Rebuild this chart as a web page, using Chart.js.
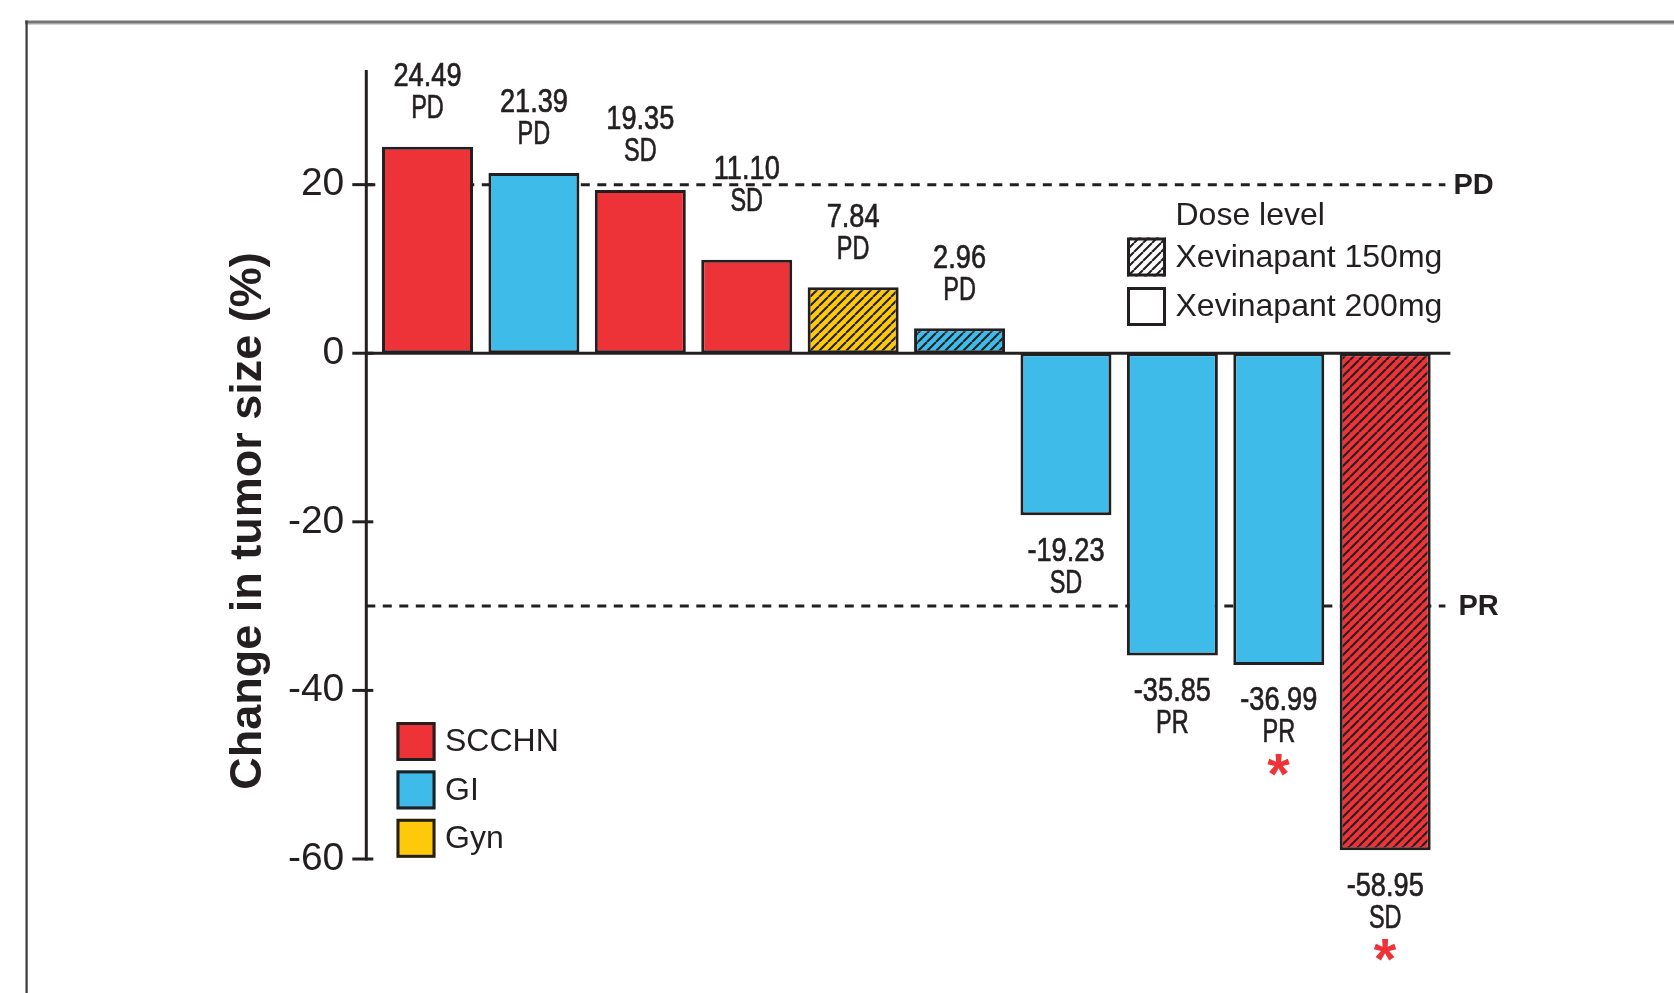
<!DOCTYPE html>
<html>
<head>
<meta charset="utf-8">
<script src="https://cdn.jsdelivr.net/npm/chart.js@4/dist/chart.umd.min.js"></script>
<style>
  html, body { margin: 0; padding: 0; background: #fff; }
  #wrap { position: relative; width: 1674px; height: 993px; }
</style>
</head>
<body>
<div id="wrap"><canvas id="c"></canvas></div>
<script>
// Best change in tumor size per patient, ordered as a waterfall
const patients   = ['Pt 1', 'Pt 2', 'Pt 3', 'Pt 4', 'Pt 5', 'Pt 6', 'Pt 7', 'Pt 8', 'Pt 9', 'Pt 10'];
const changePct  = [24.49, 21.39, 19.35, 11.10, 7.84, 2.96, -19.23, -35.85, -36.99, -58.95];
const response   = ['PD', 'PD', 'SD', 'SD', 'PD', 'PD', 'SD', 'PR', 'PR', 'SD'];
const tumorType  = ['SCCHN', 'GI', 'SCCHN', 'SCCHN', 'Gyn', 'GI', 'GI', 'GI', 'GI', 'SCCHN'];
const doseMg     = [200, 200, 200, 200, 150, 150, 200, 200, 200, 150];
const starred    = [false, false, false, false, false, false, false, false, true, true];

const yTicks      = [20, 0, -20, -40, -60];
const yTickLabels = ['20', '0', '-20', '-40', '-60'];
const yMin = -60, yMax = 33.6;

const thresholdValues = [20, -30];
const thresholdLabels = ['PD', 'PR'];

const tumorTypes = ['SCCHN', 'GI', 'Gyn'];
const doseLevels = [150, 200];
const doseLabels = ['Xevinapant 150mg', 'Xevinapant 200mg'];
const doseTitle  = 'Dose level';
const yTitle     = 'Change in tumor size (%)';

// ---- styling ----
const INK  = '#231f20';
const FONT = "'Liberation Sans', Arial, Helvetica, sans-serif";
const typeColor = { SCCHN: '#ee3338', GI: '#3fbbea', Gyn: '#fec90b' };
const STAR_RED = '#ee3338';

const canvas = document.getElementById('c');
const ctx0 = canvas.getContext('2d');

// diagonal hatch used for the lower dose level
function hatch(fill) {
  const p = 9;
  const tile = document.createElement('canvas');
  tile.width = p; tile.height = p;
  const g = tile.getContext('2d');
  g.fillStyle = fill;
  g.fillRect(0, 0, p, p);
  g.strokeStyle = INK;
  g.lineWidth = 2.1;
  g.beginPath();
  for (const k of [-1, 0, 1]) {
    g.moveTo(k * p, p);
    g.lineTo(k * p + p, 0);
  }
  g.stroke();
  return ctx0.createPattern(tile, 'repeat');
}

const barFills = changePct.map((v, i) => {
  const col = typeColor[tumorType[i]];
  return doseMg[i] === doseLevels[0] ? hatch(col) : col;
});

// condensed-looking label: horizontally squeezed, lightly stroked for weight
function squeezed(ctx, text, x, y, k) {
  ctx.save();
  ctx.translate(x, y);
  ctx.scale(k, 1);
  ctx.fillText(text, 0, 0);
  ctx.lineWidth = 0.7;
  ctx.strokeStyle = ctx.fillStyle;
  ctx.strokeText(text, 0, 0);
  ctx.restore();
}

// red asterisk, centred on (cx, cy) with a glyph height of h
function drawStar(ctx, cx, cy, h) {
  ctx.save();
  ctx.textAlign = 'left';
  ctx.textBaseline = 'alphabetic';
  ctx.font = 'bold 100px ' + FONT;
  let m = ctx.measureText('*');
  const size = 100 * h / (m.actualBoundingBoxAscent + m.actualBoundingBoxDescent);
  ctx.font = 'bold ' + size.toFixed(1) + 'px ' + FONT;
  m = ctx.measureText('*');
  const asc = m.actualBoundingBoxAscent, desc = m.actualBoundingBoxDescent;
  const left = m.actualBoundingBoxLeft, right = m.actualBoundingBoxRight;
  ctx.fillStyle = STAR_RED;
  ctx.fillText('*', cx - (right - left) / 2, cy + (asc - desc) / 2);
  ctx.restore();
}

const AXIS_GAP = 8;

const decor = {
  id: 'waterfallDecor',
  beforeDraw(chart) {
    const ctx = chart.ctx;
    ctx.save();
    ctx.fillStyle = '#ffffff';
    ctx.fillRect(0, 0, chart.width, chart.height);
    // outer frame
    ctx.fillStyle = '#d4d4d4';
    ctx.fillRect(25, 23, chart.width - 25, 2);
    ctx.fillStyle = '#757575';
    ctx.fillRect(25, 20.5, chart.width - 25, 3);
    ctx.fillStyle = '#3a3a3a';
    ctx.fillRect(25.5, 20.5, 2.2, chart.height - 20);
    ctx.restore();
  },
  beforeDatasetsDraw(chart) {
    const ctx = chart.ctx, ca = chart.chartArea, y = chart.scales.y;
    const axisX = ca.left - AXIS_GAP;
    ctx.save();
    ctx.strokeStyle = INK;
    ctx.lineWidth = 3;
    ctx.setLineDash([9, 7.5]);
    thresholdValues.forEach(v => {
      const py = y.getPixelForValue(v);
      ctx.beginPath();
      ctx.moveTo(axisX, py);
      ctx.lineTo(ca.right + 7, py);
      ctx.stroke();
    });
    ctx.restore();
  },
  afterDatasetsDraw(chart) {
    const ctx = chart.ctx, ca = chart.chartArea, y = chart.scales.y;
    const axisX = ca.left - AXIS_GAP;
    const zeroY = y.getPixelForValue(0);
    ctx.save();

    // y axis line and tick marks
    ctx.strokeStyle = INK;
    ctx.lineWidth = 3;
    ctx.beginPath();
    ctx.moveTo(axisX, ca.top);
    ctx.lineTo(axisX, y.getPixelForValue(yMin) + 1.5);
    ctx.stroke();
    yTicks.forEach(v => {
      const py = y.getPixelForValue(v);
      ctx.beginPath();
      ctx.moveTo(axisX - 14, py);
      ctx.lineTo(axisX + 7, py);
      ctx.stroke();
    });
    // zero baseline
    ctx.beginPath();
    ctx.moveTo(axisX, zeroY);
    ctx.lineTo(ca.right + 12, zeroY);
    ctx.stroke();

    // threshold labels
    ctx.fillStyle = INK;
    ctx.font = 'bold 29px ' + FONT;
    ctx.textAlign = 'left';
    ctx.textBaseline = 'middle';
    thresholdValues.forEach((v, i) => {
      ctx.fillText(thresholdLabels[i], ca.right + 15 + i * 5, y.getPixelForValue(v) + 1);
    });

    // value + response labels
    const pdY = y.getPixelForValue(thresholdValues[0]);
    const meta = chart.getDatasetMeta(0);
    meta.data.forEach((bar, i) => {
      const v = changePct[i];
      const num = v.toFixed(2);
      let l1;
      if (v >= 0) {
        l1 = bar.y - 70;
        // keep the number clear of the PD dashed line
        if (Math.abs(l1 - pdY) < 15) l1 = pdY - 15;
      } else {
        l1 = bar.y + 36;
      }
      ctx.font = '34px ' + FONT;
      ctx.textAlign = 'center';
      ctx.textBaseline = 'middle';
      ctx.fillStyle = INK;
      squeezed(ctx, num, bar.x, l1, 0.8);
      squeezed(ctx, response[i], bar.x, l1 + 32, 0.69);
      if (starred[i]) drawStar(ctx, bar.x, l1 + 64, 22);
    });

    // y axis title
    ctx.save();
    ctx.fillStyle = INK;
    ctx.font = 'bold 45px ' + FONT;
    ctx.textAlign = 'center';
    ctx.textBaseline = 'alphabetic';
    ctx.translate(261, 521);
    ctx.rotate(-Math.PI / 2);
    ctx.fillText(yTitle, 0, 0);
    ctx.restore();

    // tumor type legend
    const box = 39;
    ctx.lineWidth = 3;
    ctx.strokeStyle = INK;
    ctx.font = '32px ' + FONT;
    ctx.textAlign = 'left';
    ctx.textBaseline = 'middle';
    tumorTypes.forEach((t, i) => {
      const bx = 396.5, by = 722 + i * 48.4;
      ctx.fillStyle = typeColor[t];
      ctx.fillRect(bx, by, box, box);
      ctx.strokeRect(bx + 1.5, by + 1.5, box - 3, box - 3);
      ctx.fillStyle = INK;
      ctx.fillText(t, 445, by + box / 2 + 1);
    });

    // dose level legend
    ctx.fillStyle = INK;
    ctx.fillText(doseTitle, 1175.5, 216);
    doseLevels.forEach((d, i) => {
      const bx = 1127, by = 237.5 + i * 49.5;
      ctx.fillStyle = d === doseLevels[0] ? hatch('#ffffff') : '#ffffff';
      ctx.fillRect(bx, by, box, box);
      ctx.strokeRect(bx + 1.5, by + 1.5, box - 3, box - 3);
      ctx.fillStyle = INK;
      ctx.fillText(doseLabels[i], 1175.5, by + box / 2 + 1);
    });

    ctx.restore();
  }
};

new Chart(canvas, {
  type: 'bar',
  data: {
    labels: patients,
    datasets: [{
      data: changePct,
      backgroundColor: barFills,
      borderColor: INK,
      borderWidth: 3,
      borderSkipped: false,
      barPercentage: 0.855,
      categoryPercentage: 1
    }]
  },
  options: {
    responsive: true,
    maintainAspectRatio: false,
    animation: false,
    events: [],
    layout: { padding: { left: 0, top: 70, right: 235.6, bottom: 134 } },
    plugins: {
      legend: { display: false },
      tooltip: { enabled: false }
    },
    scales: {
      x: { display: false },
      y: {
        min: yMin,
        max: yMax,
        afterFit(scale) { scale.width = 374.3; },
        afterBuildTicks(scale) { scale.ticks = yTicks.map(v => ({ value: v })); },
        grid: { display: false, drawTicks: true, tickLength: 22 },
        border: { display: false },
        ticks: {
          padding: 8,
          color: INK,
          font: { family: FONT, size: 39 },
          callback: (value, index) => yTickLabels[index]
        }
      }
    }
  },
  plugins: [decor]
});
</script>
</body>
</html>
